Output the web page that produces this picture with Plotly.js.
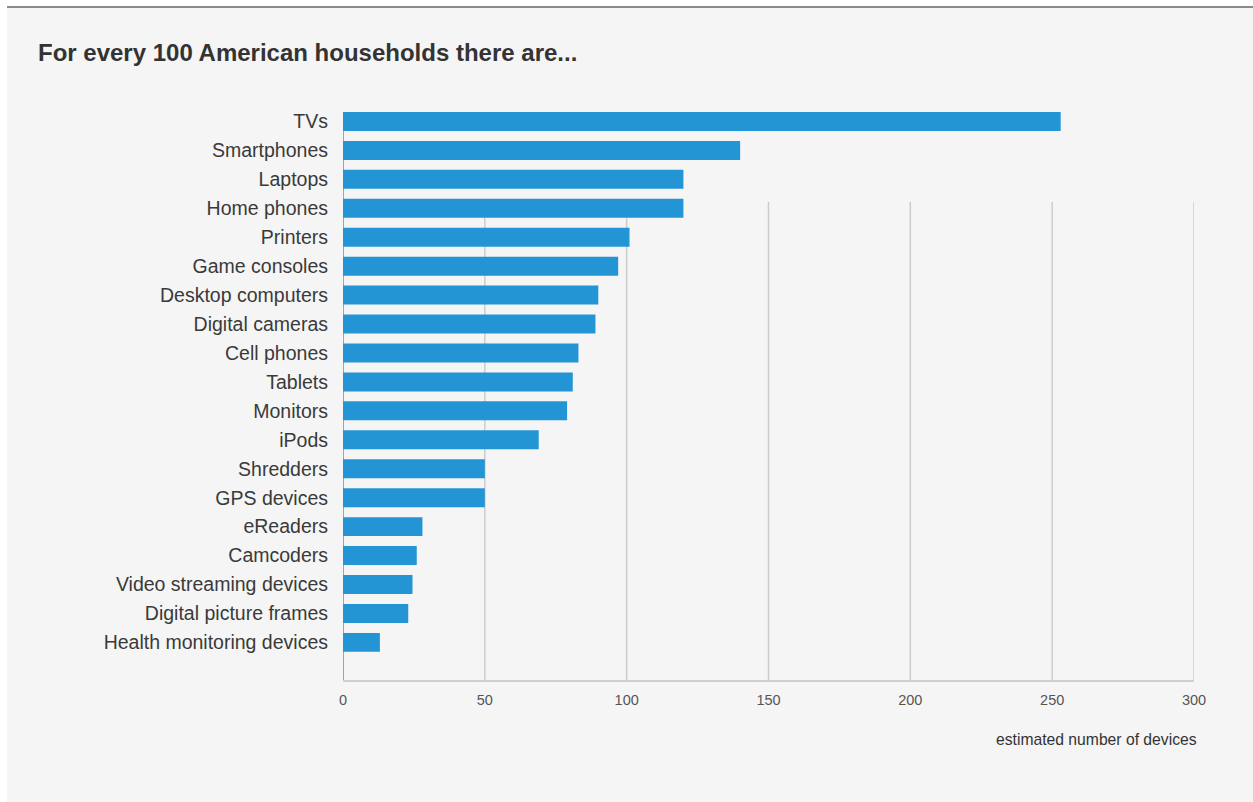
<!DOCTYPE html>
<html>
<head>
<meta charset="utf-8">
<script src="https://cdn.plot.ly/plotly-3.0.1.min.js"></script>
<style>
  html, body { margin: 0; padding: 0; background: #ffffff; width: 1253px; height: 802px; overflow: hidden; }
  #wrap { position: absolute; left: 7px; top: 6px; width: 1246px; height: 796px; background: #f5f5f5; border-top: 2px solid #8a8a8a; box-sizing: border-box; }
  #chart { width: 1246px; height: 794px; }
</style>
</head>
<body>
<div id="wrap"><div id="chart"></div></div>
<script>
const categories = [
  "TVs", "Smartphones", "Laptops", "Home phones", "Printers", "Game consoles",
  "Desktop computers", "Digital cameras", "Cell phones", "Tablets", "Monitors",
  "iPods", "Shredders", "GPS devices", "eReaders", "Camcoders",
  "Video streaming devices", "Digital picture frames", "Health monitoring devices"
];
const devices = [253, 140, 120, 120, 101, 97, 90, 89, 83, 81, 79, 69, 50, 50, 28, 26, 24.5, 23, 13];
const xTicks = [0, 50, 100, 150, 200, 250, 300];

const titleText = "For every 100 American households there are...";
const xTitleText = "estimated number of devices";

// gridlines (styling): drawn from partway down the plot, as in the reference
const gridShapes = xTicks.filter(v => v > 0).map(v => ({
  type: "line", layer: "below",
  xref: "x", yref: "y",
  x0: v, x1: v,
  y0: v <= 100 ? 3.33 : 2.78, y1: 19.3,
  line: { color: "#cccccc", width: 1.5 }
}));
// left axis line, starting at the top of the first bar
gridShapes.push({
  type: "line", layer: "below",
  xref: "x", yref: "y",
  x0: 0, x1: 0, y0: -0.33, y1: 19.3,
  line: { color: "#555555", width: 1 }
});

const trace = {
  type: "bar",
  orientation: "h",
  y: categories,
  x: devices,
  marker: { color: "#2394d4", line: { width: 0 } },
  hoverinfo: "x+y"
};

const layout = {
  width: 1246, height: 794,
  paper_bgcolor: "#f5f5f5",
  plot_bgcolor: "rgba(0,0,0,0)",
  margin: { l: 336, r: 59, t: 99, b: 122 },
  bargap: 0.344,
  showlegend: false,
  font: { family: "Liberation Sans, Arial, sans-serif", color: "#444" },
  title: {
    text: "<b>" + titleText + "</b>",
    xref: "container", yref: "container",
    x: 31 / 1246, xanchor: "left",
    y: 1 - 45 / 794, yanchor: "middle",
    font: { size: 24, color: "#333333", family: "Liberation Sans, Arial, sans-serif" }
  },
  xaxis: {
    range: [0, 300],
    tickvals: xTicks,
    ticktext: xTicks.map(String),
    showgrid: false,
    zeroline: false,
    showline: true,
    linecolor: "#d0d0d0",
    linewidth: 2,
    ticks: "",
    ticklabelstandoff: 6,
    tickfont: { size: 14.5, color: "#555555" },
    fixedrange: true
  },
  yaxis: {
    type: "category",
    range: [19.3, -0.5],
    showgrid: false,
    zeroline: false,
    showline: false,
    ticks: "",
    ticklabelstandoff: 14,
    tickfont: { size: 19.5, color: "#3a3a3a" },
    fixedrange: true
  },
  shapes: gridShapes,
  annotations: [{
    text: xTitleText,
    xref: "paper", yref: "paper",
    x: 1.006, xanchor: "right",
    y: -60 / 573, yanchor: "middle",
    showarrow: false,
    font: { size: 15.7, color: "#333333" }
  }]
};

Plotly.newPlot("chart", [trace], layout, { displayModeBar: false });
</script>
</body>
</html>
